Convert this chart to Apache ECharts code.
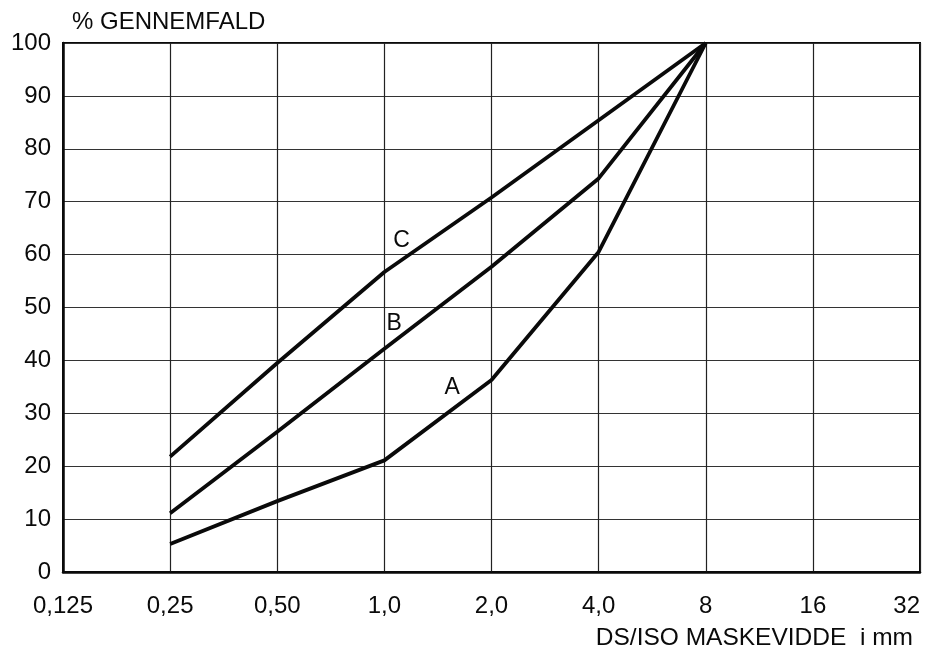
<!DOCTYPE html>
<html>
<head>
<meta charset="utf-8">
<script src="https://cdn.jsdelivr.net/npm/echarts@6/dist/echarts.min.js"></script>
<style>
html,body{margin:0;padding:0;background:#fff;}
#chart{width:933px;height:655px;}
</style>
</head>
<body>
<div id="chart"></div>
<script>
// Sieve sizes (mm) where the curves have points
var sizes = [0.25, 0.5, 1, 2, 4, 8];
// % passing for curves A, B, C
var curveA = [5.3, 13.4, 21.1, 36.3, 60.5, 100];
var curveB = [11.1, 26.5, 42.2, 57.7, 74.4, 100];
var curveC = [21.8, 39.5, 56.7, 70.8, 85.4, 100];
// x-axis tick values and their printed labels
var xTickValues = [0.125, 0.25, 0.5, 1, 2, 4, 8, 16, 32];
var xTickLabels = ['0,125', '0,25', '0,50', '1,0', '2,0', '4,0', '8', '16', '32'];
var yAxisTitle = '% GENNEMFALD';
var xAxisTitle = 'DS/ISO MASKEVIDDE  i mm';

function pairs(ys) {
  return sizes.map(function (s, i) { return [s, ys[i]]; });
}
function xLabel(v) {
  var best = 0, bd = Infinity;
  for (var i = 0; i < xTickValues.length; i++) {
    var d = Math.abs(Math.log(v) - Math.log(xTickValues[i]));
    if (d < bd) { bd = d; best = i; }
  }
  return xTickLabels[best];
}

var FONT = 'Liberation Sans, Arial, sans-serif';
var INK = '#0a0a0a';

function curve(name, ys, letter, coord) {
  return {
    name: name,
    type: 'line',
    data: pairs(ys),
    showSymbol: false,
    symbol: 'none',
    lineStyle: { color: INK, width: 3.8 },
    z: 5,
    markPoint: {
      symbol: 'circle',
      symbolSize: 0,
      silent: true,
      data: [{ coord: coord, value: letter }],
      label: {
        show: true,
        position: 'inside',
        formatter: letter,
        color: INK,
        fontFamily: FONT,
        fontSize: 23
      }
    }
  };
}

var chart = echarts.init(document.getElementById('chart'), null, { renderer: 'canvas' });
chart.setOption({
  backgroundColor: '#fff',
  animation: false,
  grid: { left: 63, right: 13, top: 43, bottom: 83, show: true, borderColor: INK, borderWidth: 2 },
  xAxis: {
    type: 'log',
    logBase: 2,
    min: 0.125,
    max: 32,
    splitNumber: 8,
    name: xAxisTitle,
    nameLocation: 'end',
    nameGap: -7,
    nameTextStyle: {
      color: INK, fontFamily: FONT, fontSize: 24.5,
      align: 'right', verticalAlign: 'top', padding: [54, 0, 0, 0]
    },
    axisLine: { show: true, lineStyle: { color: INK, width: 2.5 } },
    axisTick: { show: false },
    minorTick: { show: false },
    axisLabel: {
      color: INK, fontFamily: FONT, fontSize: 24, margin: 22,
      alignMaxLabel: 'right',
      formatter: xLabel
    },
    splitLine: { show: true, lineStyle: { color: '#222', width: 1.2 } }
  },
  yAxis: {
    type: 'value',
    min: 0,
    max: 100,
    interval: 10,
    name: yAxisTitle,
    nameLocation: 'end',
    nameGap: 21,
    nameTextStyle: {
      color: INK, fontFamily: FONT, fontSize: 24,
      align: 'left', verticalAlign: 'middle', padding: [0, 0, 0, 9]
    },
    axisLine: { show: true, lineStyle: { color: INK, width: 2.5 } },
    axisTick: { show: false },
    axisLabel: { color: INK, fontFamily: FONT, fontSize: 24, margin: 12 },
    splitLine: { show: true, lineStyle: { color: '#333', width: 1.2 } }
  },
  series: [
    curve('A', curveA, 'A', [1.55, 34.8]),
    curve('B', curveB, 'B', [1.065, 47.0]),
    curve('C', curveC, 'C', [1.117, 62.7])
  ]
});
</script>
</body>
</html>
